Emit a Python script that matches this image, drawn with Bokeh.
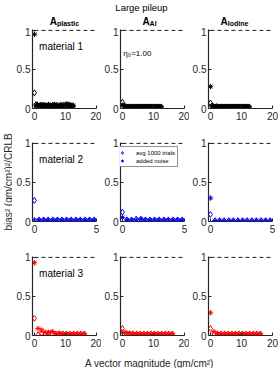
import math
from bokeh.plotting import figure
from bokeh.layouts import row, column
from bokeh.models import (Range1d, FixedTicker, CustomJSTickFormatter, Label,
                          Legend, LegendItem)
from bokeh.embed import file_html
from bokeh.resources import INLINE

FONT = "Liberation Sans"
AX = "#262626"

# ---------------- data ----------------
suptitle = "Large pileup"
components = ["plastic", "Al", "Iodine"]
materials = ["material 1", "material 2", "material 3"]
row_colors = ["#000000", "#0000ff", "#ff0000"]
x_max = [20, 5, 20]
x_ticks = [[0, 10, 20], [0, 5], [0, 10, 20]]
y_ticks = [0, 0.5, 1]
ref_level = 1
eta_text = "η₀=1.00"
legend_labels = ["avg 1000 trials", "added noise"]
y_label = "bias² (gm/cm²)²/CRLB"
x_label = "A vector magnitude (gm/cm²)"

x_row1 = [0, 0.5, 1, 1.5, 2, 2.5, 3, 3.5, 4, 4.5, 5, 5.5, 6, 6.5, 7, 7.5, 8,
          8.5, 9, 9.5, 10, 10.5, 11, 11.5, 12, 12.5]
x_row2 = [0, 0.37, 0.74, 1.11, 1.48, 1.85, 2.22, 2.59, 2.96, 3.33, 3.70, 4.07,
          4.44, 4.81]
x_row3 = [0, 1.15, 2.3, 3.45, 4.6, 5.75, 6.9, 8.05, 9.2, 10.35, 11.5, 12.65,
          13.8, 14.95, 16.1]

# row 1 (material 1)
m1_plastic_avg = [0.20, 0.05, 0.04, 0.03, 0.04, 0.03, 0.04, 0.03, 0.03, 0.04, 0.03, 0.03, 0.04,
                  0.03, 0.04, 0.03, 0.03, 0.04, 0.03, 0.04, 0.03, 0.04, 0.03, 0.04, 0.03, 0.03]
m1_plastic_noise = [0.95, 0.04, 0.05, 0.03, 0.04, 0.05, 0.03, 0.04, 0.03, 0.05, 0.04, 0.03, 0.04,
                    0.05, 0.03, 0.04, 0.03, 0.05, 0.04, 0.03, 0.05, 0.06, 0.04, 0.05, 0.03, 0.04]
m1_al_avg = [0.08, 0.03, 0.02, 0.02, 0.02, 0.02, 0.02, 0.02, 0.02, 0.02, 0.02, 0.02, 0.02,
             0.02, 0.02, 0.02, 0.02, 0.02, 0.02, 0.02, 0.02, 0.02, 0.02, 0.02, 0.02, 0.02]
m1_al_noise = [0.04, 0.03, 0.03, 0.02, 0.02, 0.02, 0.02, 0.02, 0.02, 0.02, 0.02, 0.02, 0.02,
               0.02, 0.02, 0.02, 0.02, 0.02, 0.02, 0.02, 0.02, 0.02, 0.02, 0.02, 0.02, 0.02]
m1_iodine_avg = [0.07, 0.03, 0.02, 0.02, 0.02, 0.02, 0.02, 0.02, 0.02, 0.02, 0.02, 0.02, 0.02,
                 0.02, 0.02, 0.02, 0.02, 0.02, 0.02, 0.02, 0.02, 0.02, 0.02, 0.02, 0.02, 0.02]
m1_iodine_noise = [0.28, 0.03, 0.03, 0.02, 0.03, 0.02, 0.02, 0.02, 0.02, 0.02, 0.02, 0.02, 0.02,
                   0.02, 0.02, 0.02, 0.02, 0.02, 0.02, 0.02, 0.02, 0.02, 0.02, 0.02, 0.02, 0.02]
# row 2 (material 2)
m2_plastic_avg = [0.27, 0.02, 0.02, 0.02, 0.02, 0.02, 0.02, 0.02, 0.02, 0.02, 0.02, 0.02, 0.02, 0.02]
m2_plastic_noise = [0.02, 0.02, 0.02, 0.02, 0.02, 0.02, 0.02, 0.02, 0.02, 0.02, 0.02, 0.02, 0.02, 0.02]
m2_al_avg = [0.12, 0.02, 0.02, 0.03, 0.03, 0.02, 0.02, 0.02, 0.02, 0.02, 0.02, 0.02, 0.02, 0.02]
m2_al_noise = [0.05, 0.02, 0.02, 0.02, 0.03, 0.02, 0.02, 0.02, 0.02, 0.02, 0.02, 0.02, 0.02, 0.02]
m2_iodine_avg = [0.09, 0.01, 0.01, 0.01, 0.01, 0.01, 0.01, 0.01, 0.01, 0.01, 0.01, 0.01, 0.01, 0.01]
m2_iodine_noise = [0.30, 0.01, 0.01, 0.01, 0.01, 0.01, 0.01, 0.01, 0.01, 0.01, 0.01, 0.01, 0.01, 0.01]
# row 3 (material 3)
m3_plastic_avg = [0.22, 0.01, 0.03, 0.02, 0.03, 0.02, 0.02, 0.02, 0.02, 0.02, 0.02, 0.02, 0.02, 0.02, 0.02]
m3_plastic_noise = [0.93, 0.09, 0.07, 0.04, 0.04, 0.05, 0.02, 0.03, 0.02, 0.02, 0.02, 0.02, 0.02, 0.02, 0.02]
m3_al_avg = [0.09, 0.03, 0.02, 0.02, 0.02, 0.02, 0.02, 0.02, 0.02, 0.02, 0.02, 0.02, 0.02, 0.02, 0.02]
m3_al_noise = [0.04, 0.03, 0.03, 0.02, 0.02, 0.02, 0.02, 0.02, 0.02, 0.02, 0.02, 0.02, 0.02, 0.02, 0.02]
m3_iodine_avg = [0.09, 0.02, 0.02, 0.02, 0.02, 0.02, 0.02, 0.02, 0.02, 0.02, 0.02, 0.02, 0.02, 0.02, 0.02]
m3_iodine_noise = [0.29, 0.05, 0.02, 0.02, 0.02, 0.02, 0.02, 0.02, 0.02, 0.02, 0.02, 0.02, 0.02, 0.02, 0.02]

x_rows = [x_row1, x_row2, x_row3]
avg_data = [[m1_plastic_avg, m1_al_avg, m1_iodine_avg],
            [m2_plastic_avg, m2_al_avg, m2_iodine_avg],
            [m3_plastic_avg, m3_al_avg, m3_iodine_avg]]
noise_data = [[m1_plastic_noise, m1_al_noise, m1_iodine_noise],
              [m2_plastic_noise, m2_al_noise, m2_iodine_noise],
              [m3_plastic_noise, m3_al_noise, m3_iodine_noise]]

# ---------------- layout ----------------
FW, FH = 64, 79
LEFT = [20, 16, 16]
RIGHT = [5, 5, 6]
TOP = [2, 17, 18]
BOTTOM = [17, 17, 16]
YSTRIP = 12
HEAD_H = 27
XS_H = 17
PAD_PX = 2.0
sub_w = {"plastic": 22.3, "Al": 7.0, "Iodine": 20.7}


def make_panel(r, c):
    pad = PAD_PX * x_max[r] / FW
    p = figure(frame_width=FW, frame_height=FH,
               x_range=Range1d(-pad, x_max[r]), y_range=Range1d(0, 1.01),
               toolbar_location=None, output_backend="svg",
               min_border_left=LEFT[c], min_border_right=RIGHT[c],
               min_border_top=TOP[r], min_border_bottom=BOTTOM[r],
               outline_line_color=None, background_fill_color="white",
               border_fill_color="white")
    p.xgrid.visible = False
    p.ygrid.visible = False
    p.xaxis.ticker = FixedTicker(ticks=x_ticks[r])
    p.yaxis.ticker = FixedTicker(ticks=y_ticks)
    p.yaxis.formatter = CustomJSTickFormatter(code="return String(tick);")
    for ax in (p.xaxis, p.yaxis):
        ax.axis_line_color = AX
        ax.axis_line_width = 1.2
        ax.major_tick_line_color = AX
        ax.major_tick_in = 3
        ax.major_tick_out = 0
        ax.minor_tick_line_color = None
        ax.major_label_text_font = FONT
        ax.major_label_text_font_size = "10px"
        ax.major_label_text_color = AX
    p.xaxis.major_label_standoff = 3
    p.yaxis.major_label_standoff = 2

    p.line([0, x_max[r]], [ref_level, ref_level], line_color="black",
           line_width=1, line_dash="4 3")
    col = row_colors[r]
    rd = p.scatter(x_rows[r], avg_data[r][c], marker="diamond", size=6,
                   line_color=col, fill_color=None, line_width=1)
    rs = p.scatter(x_rows[r], noise_data[r][c], marker="asterisk", size=5.5,
                   line_color=col, line_width=1)

    if c == 0:
        p.add_layout(Label(x=0.075 * x_max[r], y=0.79, text=materials[r],
                           text_font=FONT, text_font_size="10px",
                           text_color="black", text_baseline="middle"))
    if r == 0 and c == 1:
        p.add_layout(Label(x=0.3, y=0.7, text=eta_text, text_font=FONT,
                           text_font_size="8px", text_color="black",
                           text_baseline="middle"))
    if r == 1 and c == 1:
        leg = Legend(items=[LegendItem(label=legend_labels[0], renderers=[rd]),
                            LegendItem(label=legend_labels[1], renderers=[rs])],
                     location=(-11, 54), orientation="vertical",
                     label_text_font=FONT, label_text_font_size="6px",
                     label_text_color="black", label_height=7, glyph_height=7,
                     glyph_width=20, label_standoff=4, spacing=1, padding=2,
                     margin=0, border_line_color=AX, border_line_width=1,
                     background_fill_color="white", background_fill_alpha=1)
        p.add_layout(leg)
    return p


rows = []
for r in range(3):
    rows.append(row(*[make_panel(r, c) for c in range(3)], spacing=0))

col_w = [LEFT[c] + FW + RIGHT[c] for c in range(3)]
grid_w = sum(col_w)
total_w = YSTRIP + grid_w


def text_strip(w, h):
    s = figure(width=w, height=h, x_range=Range1d(0, w), y_range=Range1d(0, h),
               x_axis_type=None, y_axis_type=None, toolbar_location=None,
               output_backend="svg", min_border=0, outline_line_color=None)
    s.xgrid.visible = False
    s.ygrid.visible = False
    return s


# header: super title + column titles
header = text_strip(total_w, HEAD_H)
frame_centers = []
acc = YSTRIP
for c in range(3):
    frame_centers.append(acc + LEFT[c] + FW / 2)
    acc += col_w[c]
header.add_layout(Label(x=141, y=HEAD_H - 1.2, text=suptitle, text_font=FONT,
                        text_font_size="9.5px", text_color="black",
                        text_align="center", text_baseline="top"))
for c, comp in enumerate(components):
    x0 = frame_centers[c] - (7.2 + sub_w[comp]) / 2
    header.add_layout(Label(x=x0, y=6.5, text="A", text_font=FONT,
                            text_font_size="10px", text_font_style="bold",
                            text_color="black", text_baseline="alphabetic"))
    header.add_layout(Label(x=x0 + 7.2, y=3.8, text=comp, text_font=FONT,
                            text_font_size="7px", text_font_style="bold",
                            text_color="black", text_baseline="alphabetic"))

# x label strip
xstrip = text_strip(grid_w, XS_H)
xstrip.add_layout(Label(x=col_w[0] + LEFT[1] + FW / 2, y=5.5,
                        text=x_label, text_font=FONT, text_font_size="10px",
                        text_color=AX, text_align="center", text_baseline="middle"))

# y label strip
row_h = [TOP[r] + FH + BOTTOM[r] for r in range(3)]
ys_h = sum(row_h) + XS_H
ystrip = text_strip(YSTRIP, ys_h)
row2_center = row_h[0] + TOP[1] + FH / 2
ystrip.add_layout(Label(x=7.5, y=ys_h - row2_center, text=y_label,
                        angle=math.pi / 2, text_font=FONT, text_font_size="10px",
                        text_color=AX, text_align="center", text_baseline="middle"))

layout = column(header,
                row(ystrip, column(*rows, xstrip, spacing=0), spacing=0),
                spacing=0)

open("out.html", "w").write(file_html(layout, INLINE))
